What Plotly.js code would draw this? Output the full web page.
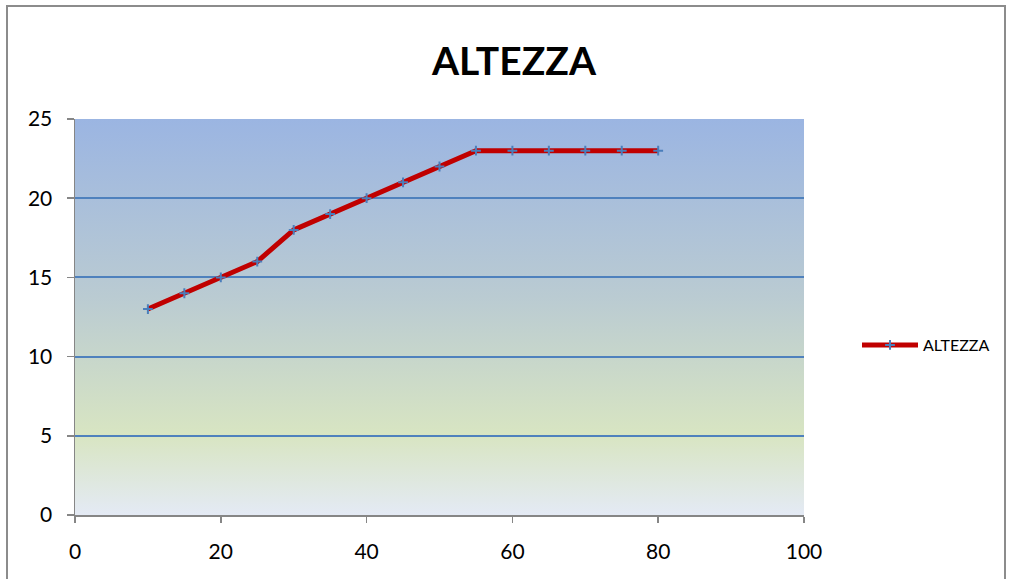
<!DOCTYPE html>
<html>
<head>
<meta charset="utf-8">
<script src="https://cdn.plot.ly/plotly-3.0.1.min.js"></script>
<style>
html,body{margin:0;padding:0;background:#fff;}
#chart{width:1011px;height:579px;}
</style>
</head>
<body>
<div id="chart"></div>
<script>
const seriesName = "ALTEZZA";
const xValues = [10, 15, 20, 25, 30, 35, 40, 45, 50, 55, 60, 65, 70, 75, 80];
const altezza = [13, 14, 15, 16, 18, 19, 20, 21, 22, 23, 23, 23, 23, 23, 23];
const xTicks = [0, 20, 40, 60, 80, 100];
const yTicks = [0, 5, 10, 15, 20, 25];

const W = 1011, H = 579;
const mL = 75, mR = 207, mT = 119, mB = 64;
const pw = W - mL - mR, ph = H - mT - mB;

const svg = '<svg xmlns="http://www.w3.org/2000/svg" width="100" height="100" preserveAspectRatio="none">' +
  '<defs><linearGradient id="g" x1="0" y1="0" x2="0" y2="1">' +
  '<stop offset="0" stop-color="#9BB5E2"/>' +
  '<stop offset="0.45" stop-color="#BACBD2"/>' +
  '<stop offset="0.8" stop-color="#D8E5C2"/>' +
  '<stop offset="1" stop-color="#E4EAF5"/>' +
  '</linearGradient></defs><rect width="100" height="100" fill="url(#g)"/></svg>';
const bgUri = 'data:image/svg+xml;base64,' + btoa(svg);

const trace = {
  x: xValues, y: altezza, name: seriesName, type: 'scatter', mode: 'lines+markers',
  line: {color: '#C00000', width: 5},
  marker: {symbol: 'cross-thin', size: 7, line: {color: '#4A7EBB', width: 2}, color: '#4A7EBB'}
};

const font = "Lato, 'Open Sans', 'DejaVu Sans', sans-serif";

const layout = {
  width: W, height: H,
  margin: {l: mL, r: mR, t: mT, b: mB, pad: 0},
  paper_bgcolor: '#FFFFFF',
  plot_bgcolor: 'rgba(0,0,0,0)',
  font: {family: font, color: '#000', size: 18},
  title: {text: '<b>ALTEZZA</b>', font: {family: font, size: 39, color: '#000'},
          x: 514 / W, xref: 'container', xanchor: 'center', y: 1 - 61 / H, yref: 'container', yanchor: 'middle'},
  showlegend: true,
  legend: {x: (857 - mL) / pw, xanchor: 'left', y: (H - mB - 345) / ph, yanchor: 'middle',
           font: {family: font, size: 16, color: '#000'}, bgcolor: 'rgba(0,0,0,0)', itemwidth: 56},
  xaxis: {range: [0, 100], tickvals: xTicks, ticktext: xTicks.map(String), showgrid: false, zeroline: false,
          showline: true, linecolor: '#868686', linewidth: 1.5, ticks: 'outside', ticklen: 6,
          tickcolor: '#868686', tickwidth: 1.5, tickfont: {size: 21}, ticklabelstandoff: 11, fixedrange: true},
  yaxis: {range: [0, 25], tickvals: yTicks, ticktext: yTicks.map(String), showgrid: true, gridcolor: '#4F81BD',
          gridwidth: 1.8, zeroline: false, showline: true, linecolor: '#868686', linewidth: 1.5,
          ticks: 'outside', ticklen: 7, tickcolor: '#868686', tickwidth: 1.5, tickfont: {size: 21},
          ticklabelstandoff: 10, fixedrange: true},
  images: [{source: bgUri, xref: 'paper', yref: 'paper', x: 0, y: 1, sizex: 1, sizey: 1,
            sizing: 'stretch', layer: 'below', xanchor: 'left', yanchor: 'top'}],
  shapes: [{type: 'path', xref: 'paper', yref: 'paper',
            path: 'M ' + ((7 - mL) / pw) + ' ' + (-(mB + 5) / ph) +
                  ' L ' + ((7 - mL) / pw) + ' ' + (1 + (mT - 6) / ph) +
                  ' L ' + ((1005 - mL) / pw) + ' ' + (1 + (mT - 6) / ph) +
                  ' L ' + ((1005 - mL) / pw) + ' ' + (-(mB + 5) / ph),
            line: {color: '#8C8C8C', width: 2}}]
};

Plotly.newPlot('chart', [trace], layout, {displayModeBar: false, staticPlot: true});
</script>
</body>
</html>
